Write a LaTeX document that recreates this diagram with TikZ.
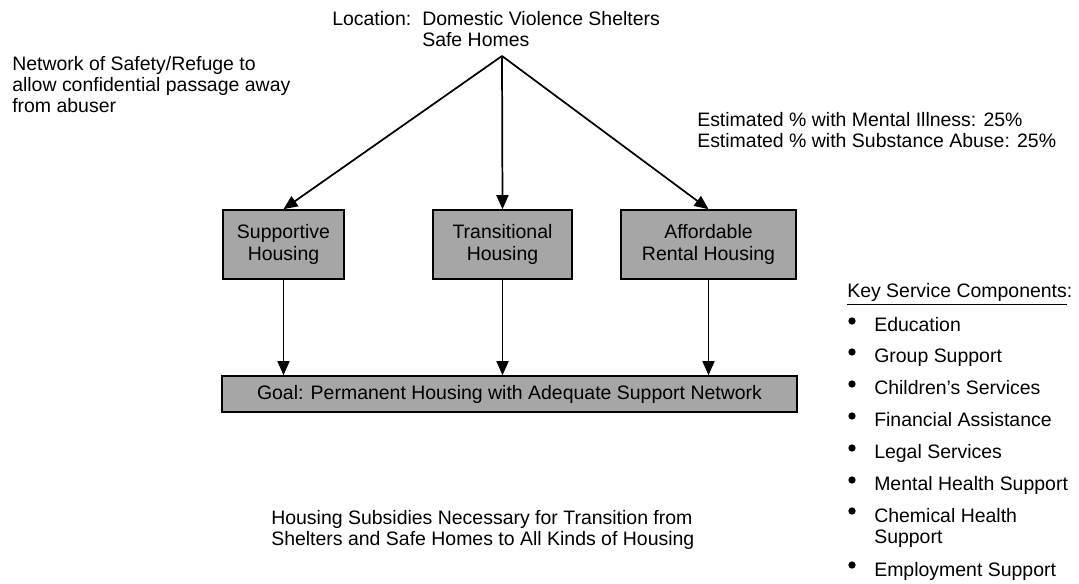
\documentclass[tikz,border=0pt]{standalone}
\usepackage{fontspec}
\setmainfont{Liberation Sans}
\usetikzlibrary{arrows.meta}
\newlength\pxl
\setlength\pxl{0.75pt}
\begin{document}
\begin{tikzpicture}[x=\pxl, y=-\pxl, font=\fontsize{14.6}{15.8}\selectfont]
				\tikzstyle{Box} = [draw, line width=1.2pt, fill=black!35, align=center, inner sep=0pt, minimum height=69\pxl]
				\tikzstyle{Txt} = [inner sep=0pt, align=left, anchor=base west]
				\tikzstyle{Arr} = [line width=1.3pt, -{Triangle[length=10.5pt, width=9pt]}]
				\tikzstyle{Dot} = [circle, fill, inner sep=0pt, minimum size=5.5pt]
				\useasboundingbox (0,0) rectangle (1079,584);
				% multi-line texts sit on their last baseline
				\node (loc) at (332,26) [Txt] {Location:};
				\node (shel) at (422,47) [Txt] {Domestic Violence Shelters\\Safe Homes};
				\coordinate (top) at (502,56);
				\node (net) at (12,113) [Txt] {Network of Safety/Refuge to\\allow confidential passage away\\from abuser};
				\node (est) at (697,148) [Txt] {Estimated \% with Mental Illness: 25\%\\Estimated \% with Substance Abuse: 25\%};
				\node (sup) at (283.5,244.5) [Box, minimum width=121\pxl] {Supportive\\Housing};
				\node (tra) at (502.5,244.5) [Box, minimum width=139\pxl] {Transitional\\Housing};
				\node (aff) at (708.5,244.5) [Box, minimum width=175\pxl] {Affordable\\Rental Housing};
				\node (goal) at (509.5,394) [Box, minimum width=575\pxl, minimum height=36\pxl] {Goal: Permanent Housing with Adequate Support Network};
				\node (sub) at (271,546) [Txt] {Housing Subsidies Necessary for Transition from\\Shelters and Safe Homes to All Kinds of Housing};
				\draw [Arr] (top) to (sup.north);
				\draw [Arr] (top) to (tra.north);
				\draw [Arr] (top) to (aff.north);
				\draw [Arr] (sup.south) to (sup.south |- goal.north);
				\draw [Arr] (tra.south) to (tra.south |- goal.north);
				\draw [Arr] (aff.south) to (aff.south |- goal.north);
				\node (key) at (847,298) [Txt] {\underline{Key Service Components}:};
				\foreach \y/\l/\t [count=\i] in {332/0/Education, 363/0/Group Support, 395/0/Children’s Services, 427/0/Financial Assistance, 459/0/Legal Services, 491/0/Mental Health Support, 522/22/{Chemical Health\\Support}, 576/0/Employment Support} {
					\node (b\i) at (852,\y-11) [Dot] {};
					\node (i\i) at (874,\y+\l) [Txt] {\t};
				}
			\end{tikzpicture}
\end{document}
